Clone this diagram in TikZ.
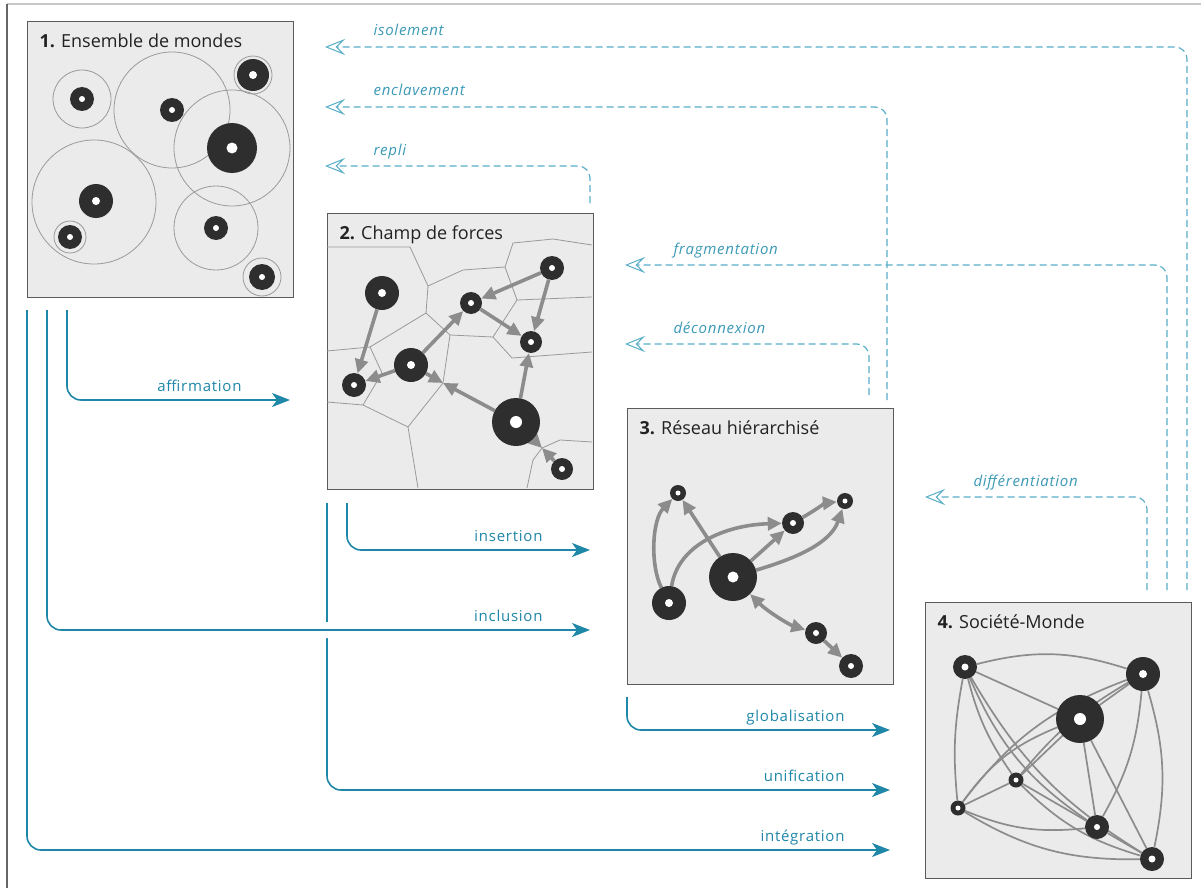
\documentclass[tikz,border=0pt]{standalone}
\usepackage{fontspec}
\setmainfont{Open Sans}
\newfontfamily\labelfont{Open Sans}[LetterSpace=5]
\usetikzlibrary{arrows.meta}
\pgfdeclarelayer{panel}
\pgfdeclarelayer{links}
\pgfsetlayers{panel,links,main}

\definecolor{flowc}{HTML}{1F87A8}
\definecolor{dashc}{HTML}{5AAFC8}
\definecolor{dashtxt}{HTML}{3C9AB6}
\definecolor{boxfill}{HTML}{EBEBEB}
\definecolor{boxline}{HTML}{5A5A5A}
\definecolor{dotc}{HTML}{2E2E2E}
\definecolor{arrc}{HTML}{8C8C8C}
\definecolor{cellc}{HTML}{9A9A9A}
\definecolor{titlec}{HTML}{222222}

\tikzset{
  panel/.style={draw=boxline, line width=1.2pt, fill=boxfill, minimum width=266pt,
    minimum height=276pt, inner sep=0pt, anchor=north west},
  paneltitle/.style={anchor=base west, text=titlec, font=\fontsize{18}{20}\selectfont},
  wd/.style 2 args={circle, inner sep=0pt, fill=dotc, minimum size=#1,
    path picture={\fill[white] (path picture bounding box.center) circle (#2);}},
  ring/.style={draw=cellc, line width=0.8pt},
  cell/.style={draw=cellc, line width=0.8pt},
  garrow/.style={draw=arrc, line width=3.6pt, -{Triangle[length=14pt, width=13pt]}},
  gdouble/.style={draw=arrc, line width=3.6pt, {Triangle[length=14pt, width=13pt]}-{Triangle[length=14pt, width=13pt]}},
  link/.style={draw=arrc, line width=1.7pt},
  flow/.style={draw=flowc, line width=1.6pt, rounded corners=14pt,
    -{Stealth[length=18pt, width=14pt, inset=5pt]}},
  dflow/.style={draw=dashc, line width=1.2pt, dash pattern=on 7pt off 4pt, rounded corners=12pt,
    -{Stealth[open, length=20pt, width=16pt, inset=8pt, line width=1pt]}},
  flab/.style={anchor=base east, text=flowc, font=\labelfont\fontsize{15}{17}\selectfont},
  dlab/.style={anchor=base west, text=dashtxt, font=\labelfont\itshape\fontsize{15}{17}\selectfont},
}

\begin{document}
\begin{tikzpicture}[x=1pt, y=-1pt]
\useasboundingbox (0,0) rectangle (1201,888);

% the four panels, on a white sheet
\begin{pgfonlayer}{panel}
  \fill[white] (0,0) rectangle (1201,888);
  \node[panel] (b1) at (27,21) {};
  \node[panel] (b2) at (327,213) {};
  \node[panel] (b3) at (627,408) {};
  \node[panel] (b4) at (925,602) {};
\end{pgfonlayer}

% outer frame
\draw[black!22, line width=2pt] (7,4) -- (1201,4);
\draw[black!60, line width=1.2pt] (7,4) -- (7,888);

\node[paneltitle] (t1) at ([xshift=9pt, yshift=-27pt]b1.north west) {\textbf{1.} Ensemble de mondes};
\node[paneltitle] (t2) at ([xshift=9pt, yshift=-26pt]b2.north west) {\textbf{2.} Champ de forces};
\node[paneltitle] (t3) at ([xshift=9pt, yshift=-26pt]b3.north west) {\textbf{3.} Réseau hiérarchisé};
\node[paneltitle] (t4) at ([xshift=9pt, yshift=-26pt]b4.north west) {\textbf{4.} Société-Monde};

% ---- panel 1: separate worlds and their reach
\begin{pgfonlayer}{links}
  \draw[ring] (82,99) circle (29pt);
  \draw[ring] (172,110) circle (58pt);
  \draw[ring] (232,148) circle (58pt);
  \draw[ring] (94,202) circle (62pt);
  \draw[ring] (216,228) circle (42pt);
  \draw[ring] (70,237) circle (16pt);
  \draw[ring] (262,277) circle (19pt);
  \draw[ring] (253,75) circle (19pt);
\end{pgfonlayer}
\node[wd={24pt}{3pt}] (w1) at (82,99) {};
\node[wd={24pt}{3pt}] (w2) at (172,110) {};
\node[wd={50pt}{5.5pt}] (w3) at (232,148) {};
\node[wd={34pt}{4pt}] (w4) at (96,201) {};
\node[wd={24pt}{3pt}] (w5) at (70,237) {};
\node[wd={24pt}{3pt}] (w6) at (216,228) {};
\node[wd={26pt}{3pt}] (w7) at (262,277) {};
\node[wd={32pt}{4pt}] (w8) at (253,75) {};

% ---- panel 2: field of forces
\node[wd={34pt}{4pt}] (A) at (382,293) {};
\node[wd={22pt}{3pt}] (B) at (471,303) {};
\node[wd={24pt}{3pt}] (C) at (552,268) {};
\node[wd={22pt}{3pt}] (D) at (531,342) {};
\node[wd={34pt}{4pt}] (E) at (411,365) {};
\node[wd={24pt}{3pt}] (F) at (354,385) {};
\node[wd={48pt}{6pt}] (G) at (516,422) {};
\node[wd={22pt}{3pt}] (H) at (562,469) {};
\coordinate (V1) at (443,383);
\coordinate (V2) at (542,448);
\begin{pgfonlayer}{links}
  \begin{scope}
    \clip (b2.north west) rectangle (b2.south east);
    \draw[cell] (327,247) -- (410,247) -- (428,286) -- (426,313);
    \draw[cell] (428,286) -- (463,270) -- (505,267) -- (513,243) -- (553,239) -- (592,245);
    \draw[cell] (505,267) -- (517,300) -- (592,297);
    \draw[cell] (426,313) -- (450,335) -- (493,337) -- (517,300);
    \draw[cell] (493,337) -- (512,358) -- (592,352);
    \draw[cell] (450,335) -- (443,383) -- (408,427);
    \draw[cell] (327,402) -- (363,405) -- (408,427) -- (418,488);
    \draw[cell] (327,351) -- (370,347) -- (426,313);
    \draw[cell] (370,347) -- (382,373) -- (363,405);
    \draw[cell] (527,488) -- (533,460) -- (542,448) -- (560,440) -- (592,442);
  \end{scope}
  \draw[garrow] (A) -- (F);
  \draw[garrow] (E) -- (F);
  \draw[garrow] (E) -- (B);
  \draw[garrow] (E) -- (V1);
  \draw[garrow] (G) -- (V1);
  \draw[garrow] (C) -- (B);
  \draw[garrow] (C) -- (D);
  \draw[garrow] (B) -- (D);
  \draw[garrow] (G) -- (D);
  \draw[garrow] (G) -- (V2);
  \draw[garrow] (H) -- (V2);
\end{pgfonlayer}

% ---- panel 3: hierarchical network
\node[wd={16pt}{2.5pt}] (P1) at (678,493) {};
\node[wd={16pt}{2.5pt}] (P2) at (845,501) {};
\node[wd={22pt}{3pt}] (P3) at (793,523) {};
\node[wd={48pt}{5.5pt}] (P4) at (733,577) {};
\node[wd={34pt}{4pt}] (P5) at (669,603) {};
\node[wd={22pt}{3pt}] (P6) at (816,633) {};
\node[wd={24pt}{3pt}] (P7) at (851,666) {};
\begin{pgfonlayer}{links}
  \draw[garrow] (P5) .. controls (650,565) and (652,520) .. (P1);
  \draw[garrow] (P4) -- (P1);
  \draw[garrow] (P5) .. controls (678,545) and (725,525) .. (P3);
  \draw[garrow] (P4) -- (P3);
  \draw[garrow] (P3) .. controls (812,512) and (826,503) .. (P2);
  \draw[garrow] (P4) .. controls (790,560) and (830,545) .. (P2);
  \draw[gdouble] (P4) .. controls (768,612) and (790,625) .. (P6);
  \draw[garrow] (P6) -- (P7);
\end{pgfonlayer}

% ---- panel 4: world society
\node[wd={24pt}{3.5pt}] (Q1) at (965,667) {};
\node[wd={34pt}{4pt}] (Q2) at (1143,674) {};
\node[wd={48pt}{6pt}] (Q3) at (1080,719) {};
\node[wd={15pt}{2.5pt}] (Q4) at (1016,780) {};
\node[wd={15pt}{2.5pt}] (Q5) at (958,808) {};
\node[wd={24pt}{3pt}] (Q6) at (1097,827) {};
\node[wd={24pt}{3.5pt}] (Q7) at (1152,859) {};
\begin{pgfonlayer}{links}
  % outer ring
  \draw[link] (Q1) to[bend left=16] (Q2);
  \draw[link] (Q2) to[bend left=14] (Q7);
  \draw[link] (Q7) to[bend left=16] (Q5);
  \draw[link] (Q5) to[bend left=8] (Q1);
  % straight links
  \draw[link] (Q1) -- (Q3);
  \draw[link] (Q2) -- (Q3);
  \draw[link] (Q3) -- (Q4);
  \draw[link] (Q3) -- (Q6);
  \draw[link] (Q3) -- (Q7);
  \draw[link] (Q4) -- (Q5);
  \draw[link] (Q4) -- (Q6);
  \draw[link] (Q6) -- (Q7);
  % curved cross links
  \draw[link] (Q1) to[bend right=10] (Q4);
  \draw[link] (Q1) to[bend right=16] (Q6);
  \draw[link] (Q1) to[bend right=14] (Q7);
  \draw[link] (Q5) to[bend left=16] (Q2);
  \draw[link] (Q5) to[bend left=16] (Q3);
  \draw[link] (Q4) to[bend left=10] (Q2);
  \draw[link] (Q2) to[bend left=12] (Q6);
  \draw[link] (Q4) to[bend right=14] (Q7);
  \draw[link] (Q6) to[bend left=14] (Q5);
\end{pgfonlayer}

% ---- integrating flows
\coordinate (affS) at (67,310);  \coordinate (affE) at (290,400);
\coordinate (incS) at (47,310);  \coordinate (incE) at (590,630);
\coordinate (intS) at (27,310);  \coordinate (intE) at (890,850);
\coordinate (insS) at (347,503); \coordinate (insE) at (590,550);
\coordinate (uniS) at (327,503); \coordinate (uniE) at (890,790);
\coordinate (gloS) at (627,697); \coordinate (gloE) at (890,730);

\draw[flow] (affS) |- (affE);
\draw[flow] (intS) |- (intE);
\draw[flow] (insS) |- (insE);
\draw[flow] (uniS) |- (uniE);
\draw[flow, preaction={draw=white, line width=16pt, -}] (incS) |- (incE);
\draw[flow] (gloS) |- (gloE);

\node[flab] (laff) at ([xshift=-45pt, yshift=9pt]affE) {affirmation};
\node[flab] (linc) at ([xshift=-44pt, yshift=9pt]incE) {inclusion};
\node[flab] (lint) at ([xshift=-42pt, yshift=9pt]intE) {intégration};
\node[flab] (lins) at ([xshift=-44pt, yshift=9pt]insE) {insertion};
\node[flab] (luni) at ([xshift=-42pt, yshift=9pt]uniE) {unification};
\node[flab] (lglo) at ([xshift=-42pt, yshift=9pt]gloE) {globalisation};

% ---- disintegrating flows
\coordinate (isoS) at (1187,590); \coordinate (isoE) at (325,47);
\coordinate (encS) at (887,400);  \coordinate (encE) at (325,107);
\coordinate (repS) at (590,203);  \coordinate (repE) at (325,166);
\coordinate (fraS) at (1167,590); \coordinate (fraE) at (625,265);
\coordinate (decS) at (869,395);  \coordinate (decE) at (625,344);
\coordinate (difS) at (1147,590); \coordinate (difE) at (925,497);

\draw[dflow] (isoS) |- (isoE);
\draw[dflow] (encS) |- (encE);
\draw[dflow] (repS) |- (repE);
\draw[dflow] (fraS) |- (fraE);
\draw[dflow] (decS) |- (decE);
\draw[dflow] (difS) |- (difE);

\node[dlab] (liso) at ([xshift=45pt, yshift=11pt]isoE) {isolement};
\node[dlab] (lenc) at ([xshift=45pt, yshift=11pt]encE) {enclavement};
\node[dlab] (lrep) at ([xshift=45pt, yshift=11pt]repE) {repli};
\node[dlab] (lfra) at ([xshift=45pt, yshift=11pt]fraE) {fragmentation};
\node[dlab] (ldec) at ([xshift=45pt, yshift=11pt]decE) {déconnexion};
\node[dlab] (ldif) at ([xshift=45pt, yshift=11pt]difE) {différentiation};
\end{tikzpicture}
\end{document}
